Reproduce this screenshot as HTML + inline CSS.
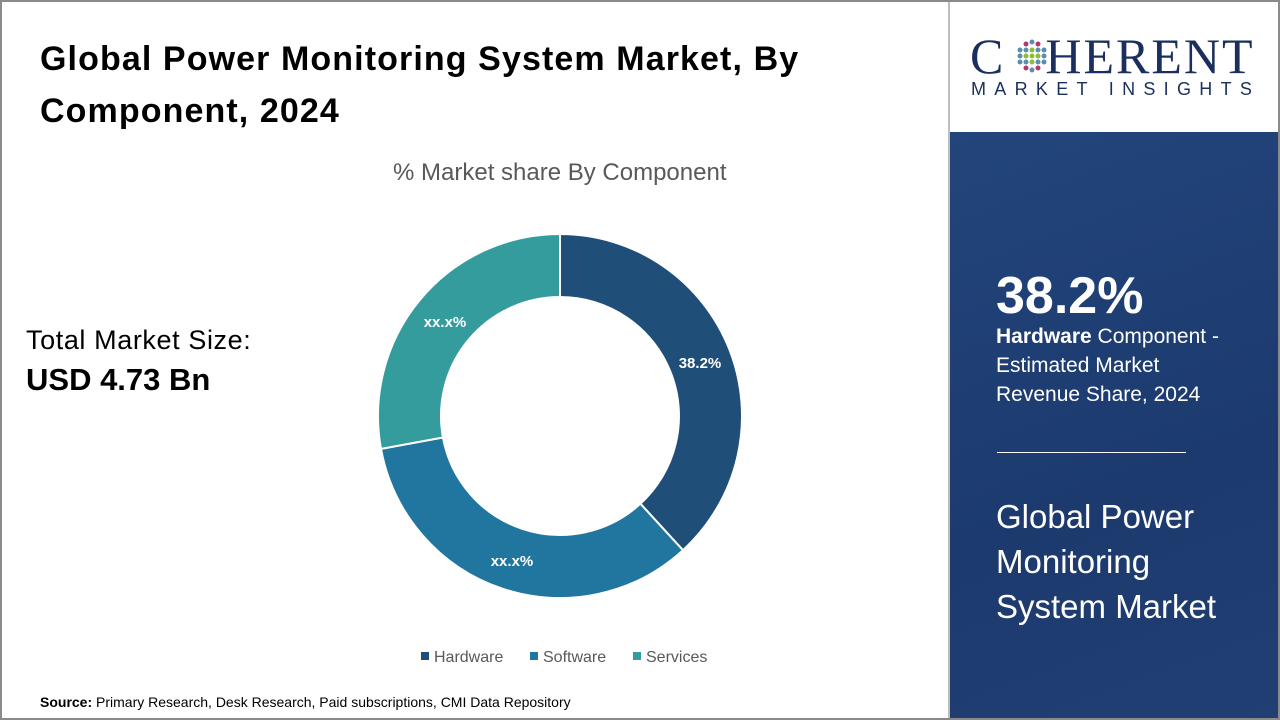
<!DOCTYPE html>
<html><head><meta charset="utf-8"><style>
*{margin:0;padding:0;box-sizing:border-box}
body{width:1280px;height:720px;overflow:hidden;background:#fff;font-family:"Liberation Sans",sans-serif;position:relative}
.frame{position:absolute;left:0;top:0;width:1280px;height:720px;border:2px solid #8a8a8a;pointer-events:none}
.t{position:absolute;color:#000;white-space:nowrap}
</style></head><body>
<div class="t" style="left:40px;top:33px;font-size:34px;font-weight:bold;line-height:52px;letter-spacing:1.1px">Global Power Monitoring System Market, By<br>Component, 2024</div>
<div class="t" style="left:393px;top:159px;font-size:24px;color:#595959">% Market share By Component</div>
<div class="t" style="left:26px;top:325px;font-size:27px;color:#000;letter-spacing:0.6px">Total Market Size:</div>
<div class="t" style="left:26px;top:362px;font-size:31px;font-weight:bold">USD 4.73 Bn</div>
<svg style="position:absolute;left:0;top:0" width="950" height="720">
<path d="M560,234 A182,182 0 0 1 682.96,550.19 L640.4,503.7 A119,119 0 0 0 560,297 Z" fill="#1f4e79" stroke="#fff" stroke-width="2"/>
<path d="M682.96,550.19 A182,182 0 0 1 380.98,448.85 L442.95,437.48 A119,119 0 0 0 640.4,503.7 Z" fill="#2176a0" stroke="#fff" stroke-width="2"/>
<path d="M380.98,448.85 A182,182 0 0 1 560,234 L560,297 A119,119 0 0 0 442.95,437.48 Z" fill="#359c9e" stroke="#fff" stroke-width="2"/>
<text x="700" y="368" fill="#fff" font-size="15" font-weight="bold" text-anchor="middle" font-family="Liberation Sans">38.2%</text>
<text x="445" y="327" fill="#fff" font-size="15" font-weight="bold" text-anchor="middle" font-family="Liberation Sans">xx.x%</text>
<text x="512" y="566" fill="#fff" font-size="15" font-weight="bold" text-anchor="middle" font-family="Liberation Sans">xx.x%</text>
<rect x="421" y="652" width="8" height="8" fill="#1f4e79"/>
<text x="434" y="662" font-size="16" fill="#595959" font-family="Liberation Sans">Hardware</text>
<rect x="530" y="652" width="8" height="8" fill="#2176a0"/>
<text x="543" y="662" font-size="16" fill="#595959" font-family="Liberation Sans">Software</text>
<rect x="633" y="652" width="8" height="8" fill="#359c9e"/>
<text x="646" y="662" font-size="16" fill="#595959" font-family="Liberation Sans">Services</text>
</svg>
<div class="t" style="left:40px;top:694px;font-size:14px"><b>Source:</b> Primary Research, Desk Research, Paid subscriptions, CMI Data Repository</div>
<div style="position:absolute;left:948px;top:0;width:2px;height:720px;background:#bdbdbd"></div>
<div style="position:absolute;left:950px;top:132px;width:330px;height:588px;background:linear-gradient(160deg,#22457c,#1c3a6e 60%,#213f72)"></div>
<div class="t" style="left:970px;top:28px;font-family:'Liberation Serif',serif;font-size:50px;color:#1b2f5e;letter-spacing:2px;line-height:56px">C<span style="display:inline-block;width:40px"></span>HERENT</div>
<svg style="position:absolute;left:1012px;top:38px" width="40" height="36">
<g fill="#5b8fb0"><circle cx="20" cy="4" r="2.5"/><circle cx="14" cy="6" r="2.5" fill="#b03a6a"/><circle cx="26" cy="6" r="2.5" fill="#b03a6a"/>
<circle cx="8" cy="12" r="2.5"/><circle cx="14" cy="12" r="2.5"/><circle cx="20" cy="12" r="2.5" fill="#8dbd3a"/><circle cx="26" cy="12" r="2.5"/><circle cx="32" cy="12" r="2.5"/>
<circle cx="8" cy="18" r="2.5"/><circle cx="14" cy="18" r="2.5" fill="#8dbd3a"/><circle cx="20" cy="18" r="2.5" fill="#8dbd3a"/><circle cx="26" cy="18" r="2.5" fill="#8dbd3a"/><circle cx="32" cy="18" r="2.5"/>
<circle cx="8" cy="24" r="2.5"/><circle cx="14" cy="24" r="2.5"/><circle cx="20" cy="24" r="2.5" fill="#8dbd3a"/><circle cx="26" cy="24" r="2.5"/><circle cx="32" cy="24" r="2.5"/>
<circle cx="14" cy="30" r="2.5" fill="#b03a6a"/><circle cx="20" cy="32" r="2.5"/><circle cx="26" cy="30" r="2.5" fill="#b03a6a"/></g></svg>
<div class="t" style="left:971px;top:79px;font-size:18px;color:#1b2f5e;letter-spacing:8.3px">MARKET INSIGHTS</div>
<div class="t" style="left:996px;top:266px;font-size:52px;font-weight:bold;color:#fff">38.2%</div>
<div class="t" style="left:996px;top:322px;font-size:21px;color:#fff;line-height:29px"><b>Hardware</b> Component -<br>Estimated Market<br>Revenue Share, 2024</div>
<div style="position:absolute;left:997px;top:452px;width:189px;height:1px;background:#fff"></div>
<div class="t" style="left:996px;top:494px;font-size:33px;color:#fff;line-height:45px">Global Power<br>Monitoring<br>System Market</div>
<div class="frame"></div>
</body></html>
